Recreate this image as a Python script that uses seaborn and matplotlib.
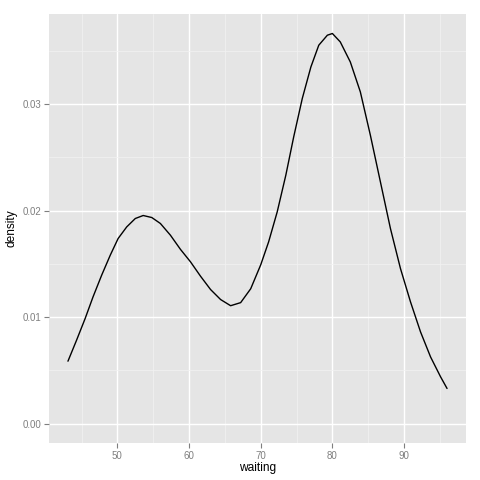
import numpy as np
import pandas as pd
import matplotlib
matplotlib.use('Agg')
import matplotlib.pyplot as plt
import seaborn as sns

# density curve (waiting vs density)
waiting = [43.1, 44.3, 45.5, 46.6, 47.8, 49.0, 50.1, 51.3, 52.5, 53.6, 54.8, 56.0,
           57.4, 58.8, 60.2, 61.6, 63.0, 64.4, 65.8, 67.2, 68.6, 70.0, 71.1, 72.3,
           73.5, 74.6, 75.8, 77.0, 78.1, 79.3, 80.0, 81.1, 82.5, 83.9, 85.3, 86.7,
           88.1, 89.5, 90.9, 92.3, 93.7, 95.1, 96.0]
density = [0.00585, 0.00782, 0.00986, 0.01189, 0.01392, 0.0158, 0.01737, 0.01846, 0.01925, 0.01953, 0.01934, 0.01878,
           0.01768, 0.01635, 0.01518, 0.01383, 0.01258, 0.01164, 0.01106, 0.01135, 0.01265, 0.01490, 0.01705, 0.01987,
           0.02331, 0.02691, 0.03052, 0.03348, 0.03552, 0.03646, 0.03662, 0.03583, 0.03395, 0.03114, 0.02707, 0.02269,
           0.01831, 0.01455, 0.01142, 0.0086, 0.00625, 0.00438, 0.00329]

x_ticks = [50, 60, 70, 80, 90]
y_ticks = [0.00, 0.01, 0.02, 0.03]
y_tick_labels = ['0.00', '0.01', '0.02', '0.03']

df = pd.DataFrame({'waiting': waiting, 'density': density})

sns.set_theme(style='darkgrid', rc={
    'axes.facecolor': '#E5E5E5',
    'grid.color': 'white',
    'axes.edgecolor': '#E5E5E5',
    'xtick.color': '#7F7F7F',
    'ytick.color': '#7F7F7F',
    'xtick.bottom': True,
    'ytick.left': True,
})
plt.rcParams['font.family'] = ['Liberation Sans', 'DejaVu Sans']

fig = plt.figure(figsize=(4.8, 4.8), dpi=100)
ax = fig.add_axes([49 / 480, 37 / 480, 417 / 480, 429 / 480])

sns.lineplot(data=df, x='waiting', y='density', color='black', linewidth=1.0, ax=ax)

# ggplot-style expansion of 5%
xr = max(waiting) - min(waiting)
ax.set_xlim(min(waiting) - 0.05 * xr, max(waiting) + 0.05 * xr)
yr = max(density)
ax.set_ylim(-0.05 * yr, yr * 1.05)

ax.set_xticks(x_ticks)
ax.set_xticklabels([str(t) for t in x_ticks])
ax.set_yticks(y_ticks)
ax.set_yticklabels(y_tick_labels)
ax.set_xticks([45, 55, 65, 75, 85, 95], minor=True)
ax.set_yticks([0.005, 0.015, 0.025, 0.035], minor=True)

ax.grid(which='major', color='white', linewidth=1.0)
ax.grid(which='minor', color='#F2F2F2', linewidth=0.5)
ax.set_axisbelow(True)
for s in ax.spines.values():
    s.set_visible(False)

ax.tick_params(axis='both', which='major', length=3.5, width=0.8, color='#7F7F7F',
               labelsize=7, labelcolor='#7F7F7F', pad=2)
ax.tick_params(axis='both', which='minor', length=0)

ax.set_xlabel('waiting', fontsize=8.6, color='black', labelpad=1)
ax.set_ylabel('density', fontsize=8.6, color='black', labelpad=4)

fig.savefig('out.png', dpi=100)
